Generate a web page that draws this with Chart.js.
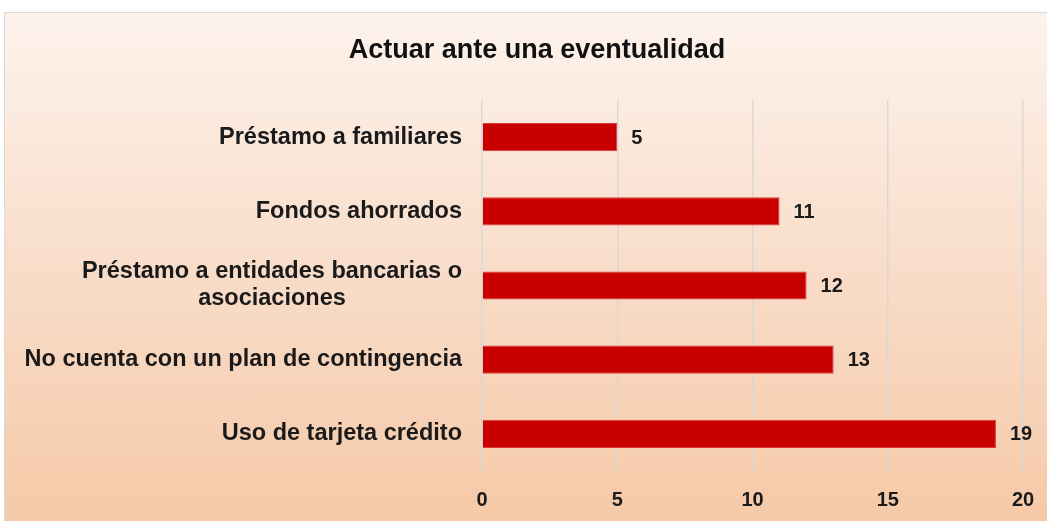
<!DOCTYPE html>
<html>
<head>
<meta charset="utf-8">
<script src="https://cdn.jsdelivr.net/npm/chart.js@4"></script>
<style>
  html, body { margin: 0; padding: 0; background: #fff; overflow: hidden; width: 1047px; height: 521px; }
  #box {
    position: absolute; left: 4px; top: 12px; width: 1064px; height: 509px;
    border-top: 1px solid #d9d9d9; border-left: 1px solid #d9d9d9;
    background: linear-gradient(to bottom, #fdf3ec 0%, #f9dfcd 45%, #f5c9a7 100%);
  }
</style>
</head>
<body>
<div id="box"><canvas id="chart"></canvas></div>
<script>
const chartTitle = "Actuar ante una eventualidad";
const categories = [
  "Préstamo a familiares",
  "Fondos ahorrados",
  ["Préstamo a entidades bancarias o", "asociaciones"],
  "No cuenta con un plan de contingencia",
  "Uso de tarjeta crédito"
];
const values = [5, 11, 12, 13, 19];
const xTicks = [0, 5, 10, 15, 20];

const fam = "'Liberation Sans', Arial, sans-serif";
const labelFont = "bold 23.5px " + fam;
const valueFont = "bold 20px " + fam;

// title, centred on the full (uncropped) chart width
const titlePlugin = {
  id: "titlePlugin",
  afterDraw(chart) {
    const ctx = chart.ctx;
    ctx.save();
    ctx.font = "bold 27px " + fam;
    ctx.fillStyle = "#111";
    ctx.textAlign = "center";
    ctx.textBaseline = "middle";
    ctx.fillText(chartTitle, chart.width / 2, 38);
    ctx.restore();
  }
};

// category labels, lines centred on each other, block right aligned
const catLabels = {
  id: "catLabels",
  afterDraw(chart) {
    const ctx = chart.ctx;
    const y = chart.scales.y;
    const right = chart.chartArea.left - 20;
    ctx.save();
    ctx.font = labelFont;
    ctx.fillStyle = "#1a1a1a";
    ctx.textAlign = "center";
    ctx.textBaseline = "middle";
    categories.forEach((lab, i) => {
      const lines = Array.isArray(lab) ? lab : [lab];
      const w = Math.max(...lines.map(l => ctx.measureText(l).width));
      const cy = y.getPixelForValue(i);
      const lh = 27;
      lines.forEach((l, j) => {
        ctx.fillText(l, right - w / 2, cy + (j - (lines.length - 1) / 2) * lh);
      });
    });
    ctx.restore();
  }
};

// value labels at the end of each bar
const valueLabels = {
  id: "valueLabels",
  afterDatasetsDraw(chart) {
    const ctx = chart.ctx;
    const meta = chart.getDatasetMeta(0);
    ctx.save();
    ctx.font = valueFont;
    ctx.fillStyle = "#1a1a1a";
    ctx.textAlign = "left";
    ctx.textBaseline = "middle";
    meta.data.forEach((bar, i) => {
      ctx.fillText(values[i], bar.x + 14, bar.y + 1);
    });
    ctx.restore();
  }
};

new Chart(document.getElementById("chart"), {
  type: "bar",
  data: {
    labels: categories,
    datasets: [{
      data: values,
      backgroundColor: "#c80000",
      borderColor: "#d63a3a",
      borderWidth: 1,
      barPercentage: 0.38,
      categoryPercentage: 1
    }]
  },
  options: {
    indexAxis: "y",
    responsive: true,
    maintainAspectRatio: false,
    animation: false,
    layout: { padding: { left: 0, right: 46, top: 87, bottom: 0 } },
    plugins: {
      legend: { display: false },
      tooltip: { enabled: false },
      title: { display: false }
    },
    scales: {
      x: {
        min: 0,
        max: 20,
        afterBuildTicks: (scale) => { scale.ticks = xTicks.map(v => ({ value: v })); },
        afterFit: (scale) => { scale.height = 51; },
        grid: { color: "rgba(215,215,215,0.9)", lineWidth: 1.5, drawTicks: false },
        border: { display: false },
        ticks: {
          padding: 17,
          color: "#1a1a1a",
          font: { family: fam, size: 20, weight: "bold" }
        }
      },
      y: {
        afterFit: (scale) => { scale.width = 477; },
        grid: { display: false },
        border: { display: false },
        ticks: { display: false }
      }
    }
  },
  plugins: [titlePlugin, catLabels, valueLabels]
});
</script>
</body>
</html>
